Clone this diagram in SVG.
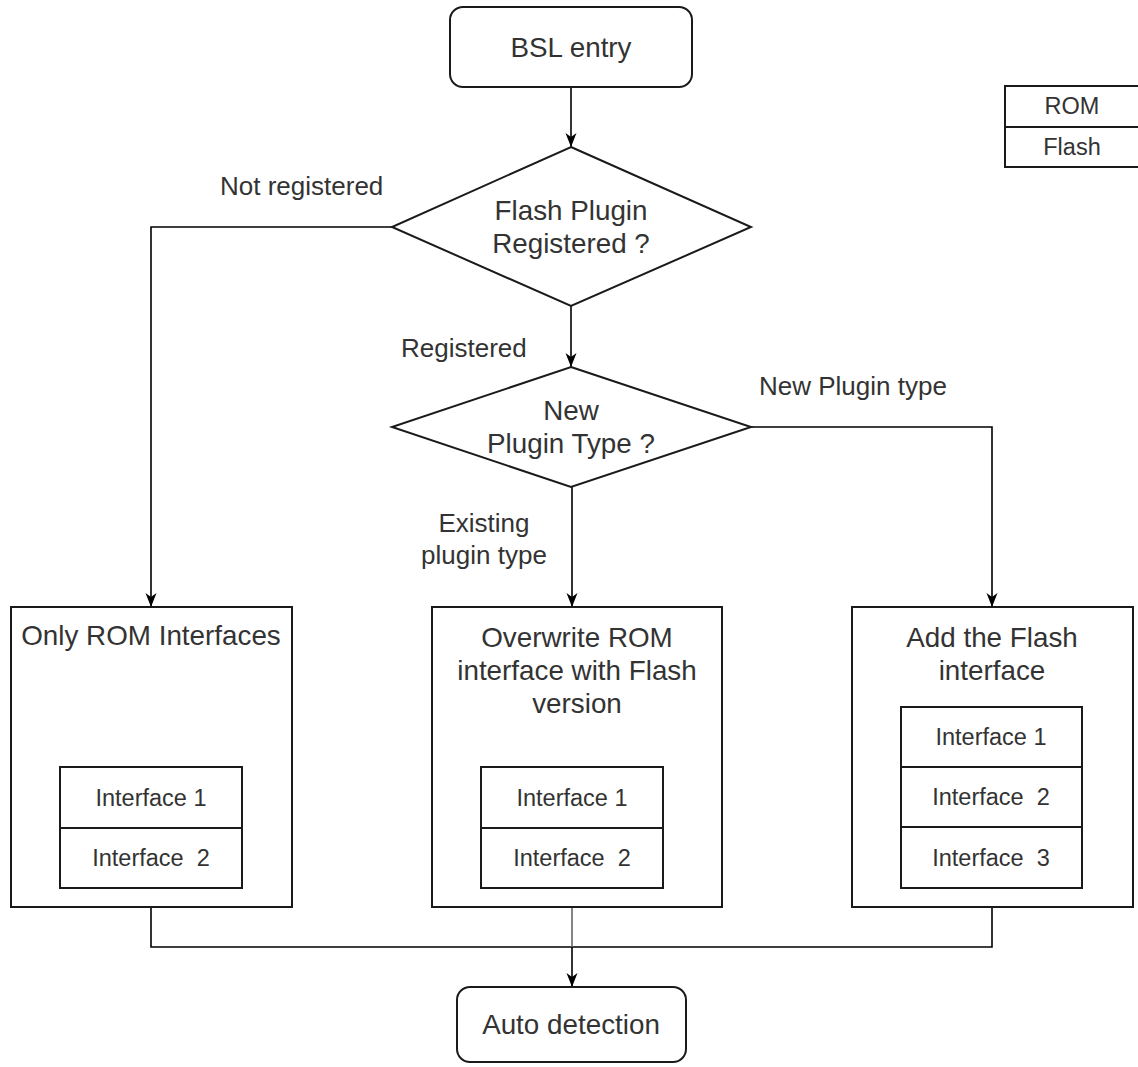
<svg xmlns="http://www.w3.org/2000/svg" width="1138" height="1067" viewBox="0 0 1138 1067">
<style>
.shape{fill:#fff;stroke:#1a1a1a;stroke-width:2}
.cell{fill:#fff;stroke:#1a1a1a;stroke-width:2}
.t{font-family:"Liberation Sans",Arial,sans-serif;font-size:27.8px;fill:#333;text-anchor:middle}
.s{font-family:"Liberation Sans",Arial,sans-serif;font-size:23.5px;fill:#333;text-anchor:middle}
.lbl{font-family:"Liberation Sans",Arial,sans-serif;font-size:26px;fill:#333}
.lc{font-family:"Liberation Sans",Arial,sans-serif;font-size:26px;fill:#333;text-anchor:middle}
.c{fill:none;stroke:#000;stroke-width:1.6}
</style>
<defs>
<marker id="arr" viewBox="0 0 14 12" refX="14" refY="6" markerWidth="14" markerHeight="12" markerUnits="userSpaceOnUse" orient="auto">
<path d="M0,0.5 L14,6 L0,11.5 L4,6 Z" fill="#000"/>
</marker>
</defs>
<rect width="1138" height="1067" fill="#fff"/>
<g id="connectors">
<path class="c" d="M571,87 V147" marker-end="url(#arr)"/>
<path class="c" d="M571,306 V367" marker-end="url(#arr)"/>
<path class="c" d="M392,227 H151 V607" marker-end="url(#arr)"/>
<path class="c" d="M572,487 V607" marker-end="url(#arr)"/>
<path class="c" d="M751,427 H992 V607" marker-end="url(#arr)"/>
<path class="c" d="M151,907 V947 H992 V907"/>
<path fill="none" stroke="#666" stroke-width="1.6" d="M572,907 V947"/>
<path class="c" stroke-width="2" d="M572,947 V987" marker-end="url(#arr)"/>
<text class="lbl" x="220" y="195">Not registered</text>
<text class="lbl" x="401" y="357">Registered</text>
<text class="lbl" x="759" y="395">New Plugin type</text>
<text class="lc" x="484" y="532">Existing</text>
<text class="lc" x="484" y="564">plugin type</text>
</g>
<g id="bsl-entry">
<rect class="shape" x="450" y="7" width="242" height="80" rx="13"/>
<text class="t" x="571" y="57">BSL entry</text>
</g>
<g id="legend">
<rect class="cell" x="1005" y="86" width="140" height="41"/>
<rect class="cell" x="1005" y="127" width="140" height="40"/>
<text class="s" x="1072" y="114">ROM</text>
<text class="s" x="1072" y="155">Flash</text>
</g>
<g id="flash-registered">
<polygon class="shape" points="571,147 751,227 571,306 392,227"/>
<text class="t" x="571" y="220">Flash Plugin</text>
<text class="t" x="571" y="253">Registered ?</text>
</g>
<g id="new-plugin-type">
<polygon class="shape" points="571,367 751,427 571,487 392,427"/>
<text class="t" x="571" y="420">New</text>
<text class="t" x="571" y="453">Plugin Type ?</text>
</g>
<g id="only-rom">
<rect class="shape" x="11" y="607" width="281" height="300"/>
<text class="t" x="151" y="645">Only ROM Interfaces</text>
<rect class="cell" x="60" y="767" width="182" height="61"/>
<rect class="cell" x="60" y="828" width="182" height="60"/>
<text class="s" x="151" y="806">Interface 1</text>
<text class="s" x="151" y="866" xml:space="preserve">Interface  2</text>
</g>
<g id="overwrite">
<rect class="shape" x="432" y="607" width="290" height="300"/>
<text class="t" x="577" y="647">Overwrite ROM</text>
<text class="t" x="577" y="680">interface with Flash</text>
<text class="t" x="577" y="713">version</text>
<rect class="cell" x="481" y="767" width="182" height="61"/>
<rect class="cell" x="481" y="828" width="182" height="60"/>
<text class="s" x="572" y="806">Interface 1</text>
<text class="s" x="572" y="866" xml:space="preserve">Interface  2</text>
</g>
<g id="add-flash">
<rect class="shape" x="852" y="607" width="281" height="300"/>
<text class="t" x="992" y="647">Add the Flash</text>
<text class="t" x="992" y="680">interface</text>
<rect class="cell" x="901" y="707" width="181" height="60"/>
<rect class="cell" x="901" y="767" width="181" height="60"/>
<rect class="cell" x="901" y="827" width="181" height="61"/>
<text class="s" x="991" y="745">Interface 1</text>
<text class="s" x="991" y="805" xml:space="preserve">Interface  2</text>
<text class="s" x="991" y="866" xml:space="preserve">Interface  3</text>
</g>
<g id="auto-detection">
<rect class="shape" x="457" y="987" width="229" height="75" rx="13"/>
<text class="t" x="571" y="1034">Auto detection</text>
</g>
</svg>
